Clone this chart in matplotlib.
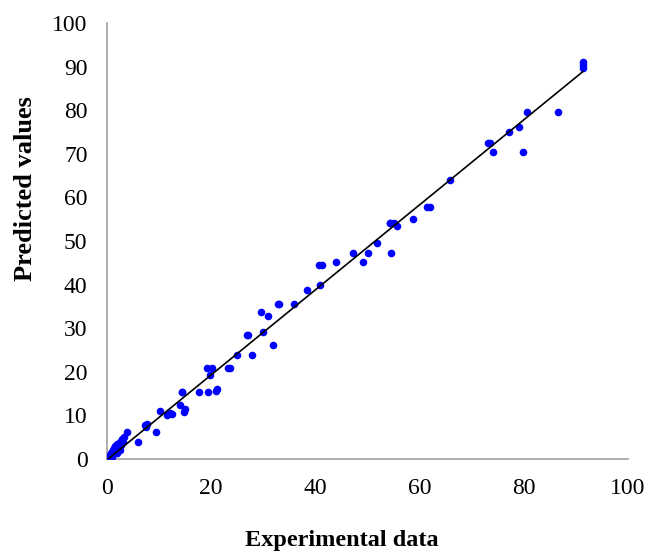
import matplotlib
matplotlib.use("Agg")
import matplotlib.pyplot as plt
import numpy as np

# Experimental (x) vs predicted (y) values
experimental = [
    0.1, 0.2, 0.3, 0.4, 0.5, 0.6, 0.7, 0.8, 0.9, 1.0, 1.1, 1.2, 1.3, 1.5, 1.6,
    1.8, 1.9, 2.0, 2.2, 2.4, 2.5, 2.6, 2.8, 3.0, 3.2, 3.9, 6.0, 7.3, 7.6, 7.5,
    9.4, 10.2, 11.5, 12.1, 12.4, 14.0, 14.3, 14.8, 15.0, 14.4, 17.6, 19.3,
    21.1, 20.9, 19.1, 20.1, 19.8, 23.3, 23.6, 24.9, 27.9, 27.1, 26.8,
    30.0, 31.8, 29.6, 30.9, 33.0, 32.9, 35.9, 38.3, 40.9, 40.6, 41.2,
    44.0, 47.3, 49.2, 50.0, 51.8, 54.3, 54.5, 55.0, 55.6, 54.3, 58.8,
    61.4, 62.0, 65.8, 73.2, 73.6, 74.0, 77.2, 79.0, 79.8, 80.6, 86.6,
    91.3, 91.3, 91.3,
]
predicted = [
    0.2, 0.5, 0.3, 0.8, 0.6, 1.0, 1.3, 0.9, 0.4, 1.5, 2.0, 1.2, 2.5, 1.8, 3.0,
    2.2, 1.4, 3.5, 2.6, 4.0, 2.0, 3.2, 4.5, 3.8, 5.0, 6.3, 4.0, 7.8, 8.0, 7.3,
    6.3, 11.1, 10.1, 10.5, 10.3, 12.4, 15.3, 10.8, 11.5, 15.3, 15.3, 15.4,
    16.0, 15.5, 20.9, 20.9, 19.3, 20.9, 20.9, 23.9, 23.9, 28.5, 28.5,
    29.1, 26.2, 33.8, 32.8, 35.6, 35.6, 35.6, 38.8, 39.8, 44.6, 44.6,
    45.2, 47.3, 45.2, 47.3, 49.6, 54.1, 47.3, 54.1, 53.4, 54.1, 55.0,
    57.8, 57.8, 64.0, 72.5, 72.5, 70.3, 75.0, 76.1, 70.3, 79.7, 79.7,
    91.1, 90.4, 89.6,
]

# Trend line parameters
fit_slope = 0.975
fit_intercept = -0.2
fit_x_range = [0.0, 91.3]

x_ticks = [0, 20, 40, 60, 80, 100]
y_ticks = [0, 10, 20, 30, 40, 50, 60, 70, 80, 90, 100]

plt.rcParams['font.family'] = ['Liberation Serif', 'DejaVu Serif']

fig = plt.figure(figsize=(6.5, 5.53), dpi=100)
ax = fig.add_axes([107/650, 1-459/553, 521/650, 436/553])

ax.scatter(experimental, predicted, s=30, color='#0000FF', linewidths=0, zorder=3)
fx = np.array(fit_x_range)
ax.plot(fx, fit_slope*fx + fit_intercept, color='black', lw=1.2, zorder=4)

ax.set_xlim(0, 100)
ax.set_ylim(0, 100)
ax.set_xticks(x_ticks)
ax.set_yticks(y_ticks)
ax.tick_params(axis='both', length=0, labelsize=17, colors='black')
ax.tick_params(axis='y', pad=14)
ax.tick_params(axis='x', pad=14)

for s in ['top', 'right']:
    ax.spines[s].set_visible(False)
for s in ['left', 'bottom']:
    ax.spines[s].set_color('#a0a0a0')
    ax.spines[s].set_linewidth(1.2)

ax.set_xlabel('Experimental data', fontsize=17.5, fontweight='bold')
ax.set_ylabel('Predicted values', fontsize=19, fontweight='bold')
ax.xaxis.set_label_coords(0.45, -0.162)
ax.yaxis.set_label_coords(-0.134, 0.62)

fig.savefig('out.png', dpi=100)
